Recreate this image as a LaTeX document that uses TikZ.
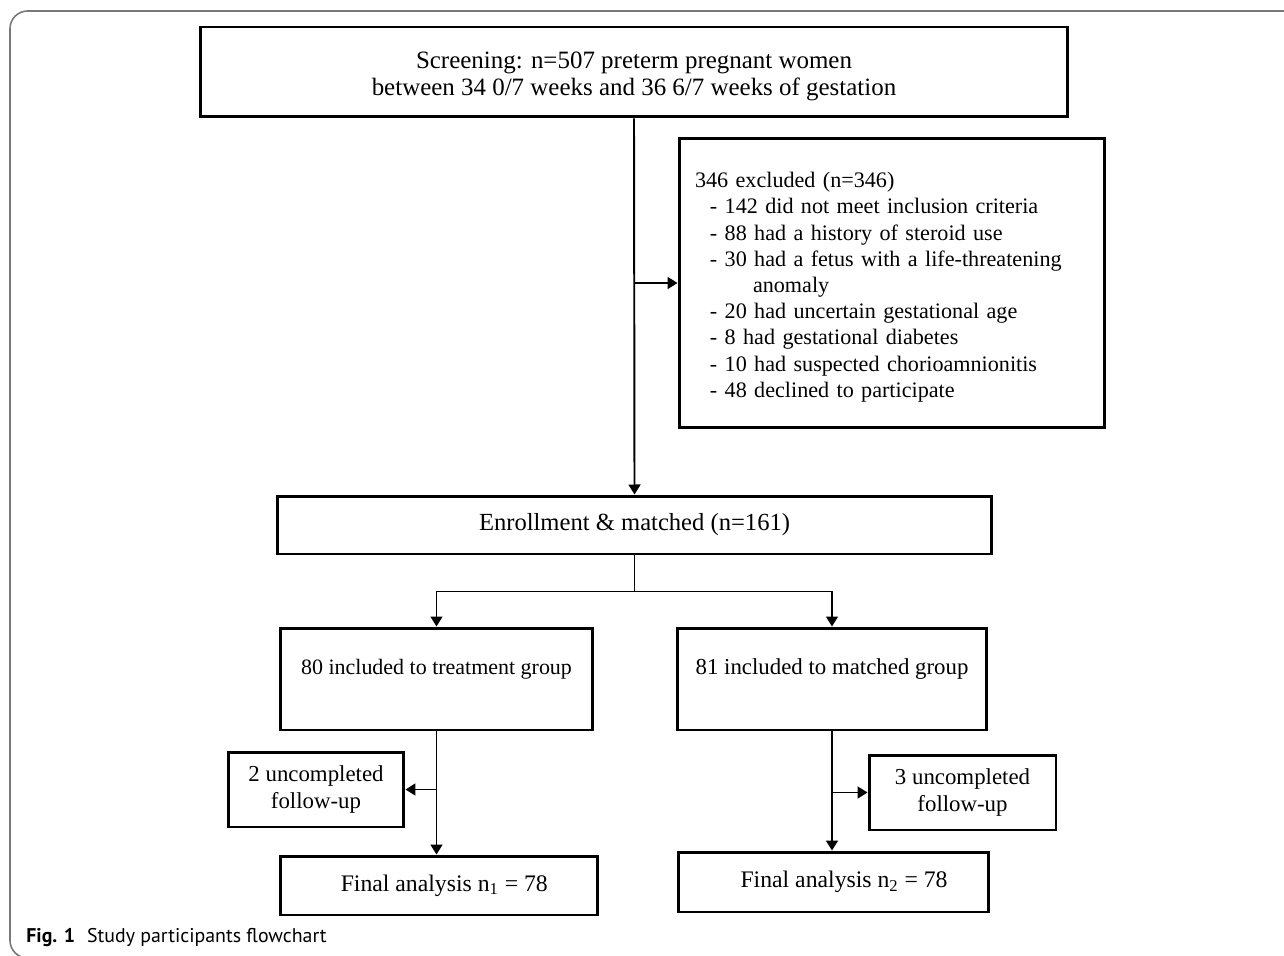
\documentclass[tikz,border=0pt]{standalone}
\usepackage{fontspec}
\setmainfont{Liberation Serif}
\newfontfamily\capfont{PT Sans}
\usepackage{tikz}
\usetikzlibrary{positioning, arrows.meta, calc}
\definecolor{framegray}{RGB}{120,120,120}

\begin{document}
\begin{tikzpicture}[x=0.02cm, y=-0.02cm, >={Triangle[length=5.7pt, width=6.8pt]},
  box/.style={draw, line width=1.7pt, align=center, inner sep=2pt,
    font=\fontsize{14pt}{15.5pt}\selectfont},
  link/.style={line width=1.1pt}]
  \useasboundingbox (0,0) rectangle (1284,956);
  % Frame
  \draw[framegray, line width=0.9pt, rounded corners=10pt] (1300,11) -- (10,11) -- (10,958) -- (40,958);
  % Boxes
  \node[box, minimum width=17.36cm, minimum height=1.8cm, font=\fontsize{14.2pt}{15.4pt}\selectfont,
        text height=30pt] (screen) at (634,72)
        {Screening: n=507 preterm pregnant women\\between 34 0/7 weeks and 36 6/7 weeks of gestation};
  \node[box, align=left, text width=7.88cm, inner xsep=0.32cm, minimum height=5.8cm,
        font=\fontsize{12.6pt}{14.9pt}\selectfont, text height=13.5pt] (excl) at (892,283)
        {346 excluded (n=346)\\
         \hspace*{8.5pt}- 142 did not meet inclusion criteria\\
         \hspace*{8.5pt}- 88 had a history of steroid use\\
         \hspace*{8.5pt}- 30 had a fetus with a life-threatening\\
         \hspace*{33pt}anomaly\\
         \hspace*{8.5pt}- 20 had uncertain gestational age\\
         \hspace*{8.5pt}- 8 had gestational diabetes\\
         \hspace*{8.5pt}- 10 had suspected chorioamnionitis\\
         \hspace*{8.5pt}- 48 declined to participate};
  \node[box, minimum width=14.3cm, minimum height=1.16cm] (enrol) at (634.5,525)
        {Enrollment \& matched (n=161)};
  \node[box, minimum width=6.26cm, minimum height=2.04cm, text height=10pt, text depth=15pt,
        font=\fontsize{12.5pt}{15pt}\selectfont] (trt) at (436.5,679)
        {80 included to treatment group};
  \node[box, minimum width=6.2cm, minimum height=2.04cm, text height=10pt, text depth=15pt,
        font=\fontsize{13pt}{15pt}\selectfont] (ctl) at (832,679)
        {81 included to matched group};
  \node[box, minimum width=3.52cm, minimum height=1.5cm, font=\fontsize{13pt}{15.4pt}\selectfont] (lossA) at (316,789.5)
        {2 uncompleted\\follow-up};
  \node[box, minimum width=3.74cm, minimum height=1.5cm, font=\fontsize{13pt}{15.4pt}\selectfont] (lossB) at (962.5,792.5)
        {3 uncompleted\\follow-up};
  \node[box, minimum width=6.36cm, minimum height=1.18cm, font=\fontsize{13.5pt}{15pt}\selectfont] (finA) at (439,885.5)
        {\hspace*{6pt}Final analysis n\textsubscript{1} = 78};
  \node[box, minimum width=6.22cm, minimum height=1.2cm, font=\fontsize{13.5pt}{15pt}\selectfont] (finB) at (833.5,882)
        {\hspace*{12pt}Final analysis n\textsubscript{2} = 78};
  % Arrows
  \draw[link, ->] (screen.south) -- (enrol.north);
  \draw[link, ->] (screen.south |- excl.west) -- (excl.west);
  \draw[line width=0.6pt] (enrol.south) -- ++(0,36) coordinate (split);
  \draw[line width=0.9pt, ->] (split) -| (trt.north);
  \draw[line width=0.9pt, ->] (split) -| (ctl.north);
  \draw[link, ->] (trt.south) -- (trt.south |- finA.north);
  \draw[link, ->] (trt.south |- lossA.east) -- (lossA.east);
  \draw[link, ->] (ctl.south) -- (ctl.south |- finB.north);
  \draw[link, ->] (ctl.south |- lossB.west) -- (lossB.west);
  % Caption
  \node[anchor=base west, font=\capfont\fontsize{11.3pt}{13pt}\selectfont, inner sep=0pt] (cap) at (26,942)
        {\textbf{Fig. 1}\hspace{0.6em}Study participants flowchart};
\end{tikzpicture}
\end{document}
